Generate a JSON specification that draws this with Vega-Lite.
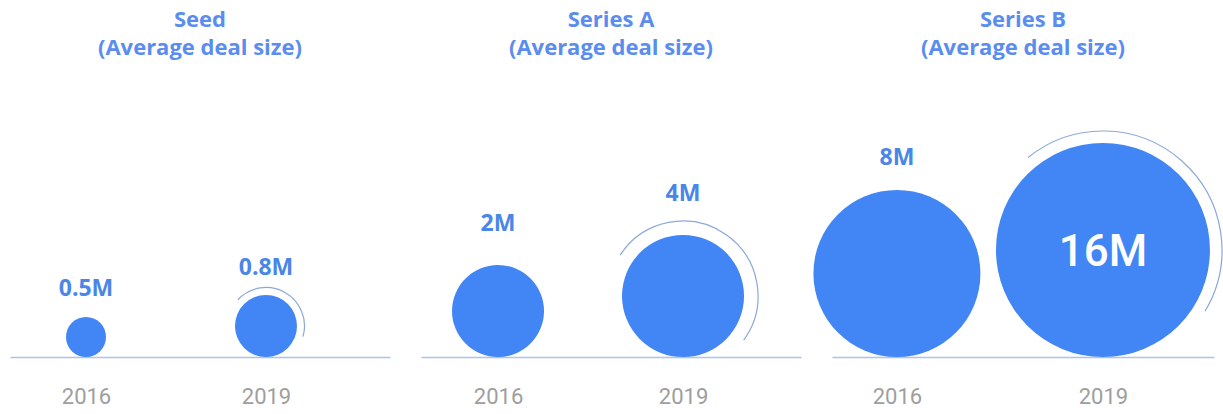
{
  "$schema": "https://vega.github.io/schema/vega-lite/v6.json",
  "background": "white",
  "padding": {"left": 10, "top": 9, "right": 0, "bottom": 0},
  "data": {
    "values": [
      {"round": "Seed", "year": "2016", "value": 0.5, "label": "0.5M"},
      {"round": "Seed", "year": "2019", "value": 0.8, "label": "0.8M"},
      {"round": "Series A", "year": "2016", "value": 2, "label": "2M"},
      {"round": "Series A", "year": "2019", "value": 4, "label": "4M"},
      {"round": "Series B", "year": "2016", "value": 8, "label": "8M"},
      {"round": "Series B", "year": "2019", "value": 16, "label": "16M"}
    ]
  },
  "spacing": 31,
  "bounds": "flush",
  "hconcat": [
    {
      "width": 380,
      "height": 257,
      "title": {"text": ["Seed", "(Average deal size)"]},
      "transform": [{"filter": "datum.round === 'Seed'"}],
      "encoding": {
        "x": {"field": "year", "type": "ordinal", "scale": {"type": "point", "domain": ["2016", "2019"], "padding": 0.5556, "align": 0.38}}
      },
      "layer": [
        {
          "mark": {"type": "point", "shape": "circle", "filled": true, "opacity": 1, "fill": "#4285f4", "strokeWidth": 0},
          "encoding": {
            "y": {"field": "value", "type": "quantitative", "scale": {"domain": [0.5, 0.8, 2, 4, 8, 16], "range": [237, 226, 211, 196, 173.5, 150], "zero": false, "nice": false}, "axis": null},
            "size": {"field": "value", "type": "quantitative", "scale": {"domain": [0.5, 0.8, 2, 4, 8, 16], "range": [1600, 3844, 8464, 14884, 27889, 45796], "zero": false, "nice": false}, "legend": null}
          }
        },
        {
          "transform": [{"filter": "datum.year === '2019'"}],
          "mark": {"type": "point", "shape": "M -0.7314 -0.682 C -0.416 -1.0202 0.0899 -1.0981 0.4924 -0.8704 C 0.8949 -0.6427 1.0887 -0.1689 0.9613 0.2756", "filled": false, "opacity": 1, "stroke": "#8aa8dd", "strokeWidth": 1.2},
          "encoding": {
            "y": {"field": "value", "type": "quantitative", "scale": {"domain": [0.5, 0.8, 2, 4, 8, 16], "range": [237, 226, 211, 196, 173.5, 150], "zero": false, "nice": false}, "axis": null},
            "size": {"field": "value", "type": "quantitative", "scale": {"domain": [0.8, 4, 16], "range": [5929, 22500, 56644], "zero": false, "nice": false}, "legend": null}
          }
        },
        {
          "transform": [{"filter": "datum.value < 16"}],
          "mark": {"type": "text", "fontSize": 23, "fontWeight": "bold", "fill": "#4a86e8", "baseline": "alphabetic", "font": "Open Sans"},
          "encoding": {
            "y": {"field": "value", "type": "quantitative", "scale": {"domain": [0.5, 0.8, 2, 4, 8], "range": [196, 175, 131, 101, 65], "zero": false, "nice": false}, "axis": null},
            "text": {"field": "label"}
          }
        }
      ],
      "resolve": {"scale": {"y": "independent", "size": "independent"}}
    },
    {
      "width": 380,
      "height": 257,
      "title": {"text": ["Series A", "(Average deal size)"]},
      "transform": [{"filter": "datum.round === 'Series A'"}],
      "encoding": {
        "x": {"field": "year", "type": "ordinal", "scale": {"type": "point", "domain": ["2016", "2019"], "padding": 0.527, "align": 0.395}}
      },
      "layer": [
        {
          "mark": {"type": "point", "shape": "circle", "filled": true, "opacity": 1, "fill": "#4285f4", "strokeWidth": 0},
          "encoding": {
            "y": {"field": "value", "type": "quantitative", "scale": {"domain": [0.5, 0.8, 2, 4, 8, 16], "range": [237, 226, 211, 196, 173.5, 150], "zero": false, "nice": false}, "axis": null},
            "size": {"field": "value", "type": "quantitative", "scale": {"domain": [0.5, 0.8, 2, 4, 8, 16], "range": [1600, 3844, 8464, 14884, 27889, 45796], "zero": false, "nice": false}, "legend": null}
          }
        },
        {
          "transform": [{"filter": "datum.year === '2019'"}],
          "mark": {"type": "point", "shape": "M -0.8387 -0.5446 C -0.5323 -1.0165 0.1028 -1.1428 0.5664 -0.8241 C 1.03 -0.5054 1.1397 0.1327 0.809 0.5878", "filled": false, "opacity": 1, "stroke": "#8aa8dd", "strokeWidth": 1.2},
          "encoding": {
            "y": {"field": "value", "type": "quantitative", "scale": {"domain": [0.5, 0.8, 2, 4, 8, 16], "range": [237, 226, 211, 196, 173.5, 150], "zero": false, "nice": false}, "axis": null},
            "size": {"field": "value", "type": "quantitative", "scale": {"domain": [0.8, 4, 16], "range": [5929, 22500, 56644], "zero": false, "nice": false}, "legend": null}
          }
        },
        {
          "transform": [{"filter": "datum.value < 16"}],
          "mark": {"type": "text", "fontSize": 23, "fontWeight": "bold", "fill": "#4a86e8", "baseline": "alphabetic", "font": "Open Sans"},
          "encoding": {
            "y": {"field": "value", "type": "quantitative", "scale": {"domain": [0.5, 0.8, 2, 4, 8], "range": [196, 175, 131, 101, 65], "zero": false, "nice": false}, "axis": null},
            "text": {"field": "label"}
          }
        }
      ],
      "resolve": {"scale": {"y": "independent", "size": "independent"}}
    },
    {
      "width": 382,
      "height": 257,
      "title": {"text": ["Series B", "(Average deal size)"]},
      "transform": [{"filter": "datum.round === 'Series B'"}],
      "encoding": {
        "x": {"field": "year", "type": "ordinal", "scale": {"type": "point", "domain": ["2016", "2019"], "padding": 0.427, "align": 0.369}}
      },
      "layer": [
        {
          "mark": {"type": "point", "shape": "circle", "filled": true, "opacity": 1, "fill": "#4285f4", "strokeWidth": 0},
          "encoding": {
            "y": {"field": "value", "type": "quantitative", "scale": {"domain": [0.5, 0.8, 2, 4, 8, 16], "range": [237, 226, 211, 196, 173.5, 150], "zero": false, "nice": false}, "axis": null},
            "size": {"field": "value", "type": "quantitative", "scale": {"domain": [0.5, 0.8, 2, 4, 8, 16], "range": [1600, 3844, 8464, 14884, 27889, 45796], "zero": false, "nice": false}, "legend": null}
          }
        },
        {
          "transform": [{"filter": "datum.year === '2019'"}],
          "mark": {"type": "point", "shape": "M -0.6293 -0.7771 C -0.2522 -1.0825 0.2898 -1.0731 0.6561 -0.7547 C 1.0224 -0.4363 1.1071 0.099 0.8572 0.515", "filled": false, "opacity": 1, "stroke": "#8aa8dd", "strokeWidth": 1.2},
          "encoding": {
            "y": {"field": "value", "type": "quantitative", "scale": {"domain": [0.5, 0.8, 2, 4, 8, 16], "range": [237, 226, 211, 196, 173.5, 150], "zero": false, "nice": false}, "axis": null},
            "size": {"field": "value", "type": "quantitative", "scale": {"domain": [0.8, 4, 16], "range": [5929, 22500, 56644], "zero": false, "nice": false}, "legend": null}
          }
        },
        {
          "transform": [{"filter": "datum.value < 16"}],
          "mark": {"type": "text", "fontSize": 23, "fontWeight": "bold", "fill": "#4a86e8", "baseline": "alphabetic", "font": "Open Sans"},
          "encoding": {
            "y": {"field": "value", "type": "quantitative", "scale": {"domain": [0.5, 0.8, 2, 4, 8], "range": [196, 175, 131, 101, 65], "zero": false, "nice": false}, "axis": null},
            "text": {"field": "label"}
          }
        },
        {
          "transform": [{"filter": "datum.value === 16"}],
          "mark": {"type": "text", "fontSize": 44, "fontWeight": 500, "fill": "white", "baseline": "alphabetic", "dy": 16, "font": "Roboto"},
          "encoding": {
            "y": {"field": "value", "type": "quantitative", "scale": {"domain": [0.5, 0.8, 2, 4, 8, 16], "range": [237, 226, 211, 196, 173.5, 150], "zero": false, "nice": false}, "axis": null},
            "text": {"field": "label"}
          }
        }
      ],
      "resolve": {"scale": {"y": "independent", "size": "independent"}}
    }
  ],
  "config": {
    "view": {"stroke": null},
    "axis": {"title": null, "grid": false},
    "axisX": {"ticks": false, "domainColor": "#a8c4f4", "domainWidth": 1.5, "labelFontSize": 22, "labelColor": "#9e9e9e", "labelPadding": 29, "labelAngle": 0, "labelFont": "Roboto"},
    "title": {"fontSize": 22, "fontWeight": "bold", "color": "#5b8def", "lineHeight": 28, "offset": 40, "font": "Open Sans", "anchor": "middle"}
  }
}
